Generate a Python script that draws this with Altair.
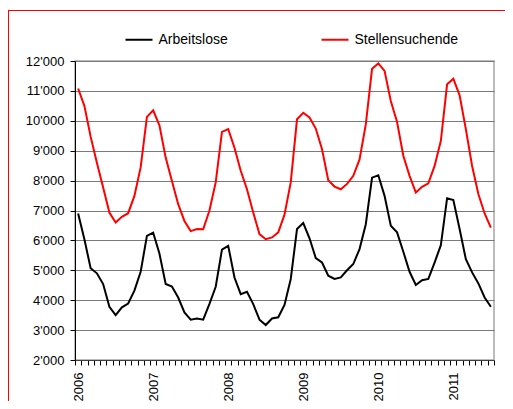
import json
import altair as alt
import pandas as pd

# ---- data (monthly, Jan 2006 .. Jul 2011) ----
year_labels = ["2006", "2007", "2008", "2009", "2010", "2011"]
series_names = ["Arbeitslose", "Stellensuchende"]
series_colors = ["#000000", "#ff0000"]
y_ticks = [2000, 3000, 4000, 5000, 6000, 7000, 8000, 9000, 10000, 11000, 12000]

arbeitslose = [
    6900, 6040, 5070, 4900, 4540, 3780, 3500, 3760, 3890, 4320, 4950, 6150,
    6260, 5560, 4540, 4460, 4090, 3590, 3350, 3390, 3350, 3880, 4450, 5690,
    5820, 4760, 4200, 4280, 3870, 3350, 3170, 3390, 3430, 3840, 4710, 6380,
    6580, 6070, 5410, 5260, 4820, 4710, 4760, 5000, 5210, 5710, 6540, 8100,
    8180, 7490, 6490, 6270, 5620, 4950, 4510, 4670, 4710, 5260, 5840, 7410,
    7350, 6380, 5370, 4930, 4560, 4090, 3780,
]
stellensuchende = [
    11080, 10500, 9470, 8600, 7770, 6930, 6600, 6790, 6910, 7490, 8440, 10130,
    10350, 9850, 8770, 7990, 7210, 6650, 6310, 6380, 6370, 7000, 7940, 9630,
    9720, 9100, 8330, 7710, 6930, 6210, 6040, 6100, 6270, 6860, 7940, 10050,
    10270, 10110, 9740, 9050, 8010, 7800, 7710, 7890, 8160, 8710, 9880, 11740,
    11920, 11670, 10660, 9960, 8830, 8160, 7600, 7790, 7910, 8490, 9330, 11220,
    11410, 10850, 9720, 8490, 7550, 6900, 6430,
]

rows = []
for name, vals in zip(series_names, [arbeitslose, stellensuchende]):
    for i, v in enumerate(vals):
        rows.append({"m": i + 0.5, "value": v, "series": name})
df = pd.DataFrame(rows)

n_cat = len(arbeitslose)
W, H = 419, 299
PL, PT, PR, PB = 67, 53, 11, 41
FONT = "Liberation Sans"

x_scale = alt.Scale(domain=[0, n_cat], nice=False, zero=False)
y_scale = alt.Scale(domain=[2000, 12000], nice=False, zero=False)

label_expr_x = (
    "datum.value % 12 == 0 ? " + json.dumps(year_labels) + "[datum.value / 12] : ''"
)
label_expr_y = "replace(format(datum.value, ','), ',', \"'\")"

lines = alt.Chart(df).mark_line(strokeWidth=2).encode(
    x=alt.X(
        "m:Q",
        scale=x_scale,
        axis=alt.Axis(
            values=list(range(0, n_cat + 1)),
            labelExpr=label_expr_x,
            labelAngle=270,
            labelOffset=3,
            labelPadding=7,
            labelFlush=False,
            labelOverlap=False,
            labelFontSize=13,
            labelFont=FONT,
            labelColor="#000000",
            tickSize=5,
            tickColor="#000000",
            domainColor="#404040",
            grid=False,
            title=None,
        ),
    ),
    y=alt.Y(
        "value:Q",
        scale=y_scale,
        axis=alt.Axis(
            values=y_ticks,
            labelExpr=label_expr_y,
            labelPadding=6,
            labelFontSize=13,
            labelFont=FONT,
            labelColor="#000000",
            tickSize=5,
            tickColor="#000000",
            domainColor="#000000",
            grid=True,
            gridColor="#7a7a7a",
            gridOpacity=1,
            title=None,
        ),
    ),
    color=alt.Color(
        "series:N",
        scale=alt.Scale(domain=series_names, range=series_colors),
        legend=alt.Legend(
            orient="none",
            legendX=49.5,
            legendY=-36,
            direction="horizontal",
            columns=2,
            columnPadding=89,
            symbolType="stroke",
            symbolSize=729,
            symbolStrokeWidth=2,
            labelFontSize=14,
            labelFont=FONT,
            labelColor="#000000",
            labelOffset=5,
            padding=0,
            title=None,
        ),
    ),
)

border_df = pd.DataFrame({"k": [0]})
border_top = alt.Chart(border_df).mark_rule(color="#ff0000", strokeWidth=1).encode(
    x=alt.value(-PL), x2=alt.value(W + PR), y=alt.value(-PT + 2.5)
)
border_left = alt.Chart(border_df).mark_rule(color="#ff0000", strokeWidth=1).encode(
    x=alt.value(-PL + 0.5), y=alt.value(-PT + 2.5), y2=alt.value(H + PB)
)

chart = (
    alt.layer(lines, border_top, border_left)
    .properties(
        width=W,
        height=H,
        autosize=alt.AutoSizeParams(type="none"),
        padding={"left": PL, "top": PT, "right": PR, "bottom": PB},
        background="#ffffff",
    )
    .configure_view(stroke="#a6a6a6", strokeWidth=1.5)
)

chart.save("out.html", embed_options={"renderer": "svg", "actions": False})
